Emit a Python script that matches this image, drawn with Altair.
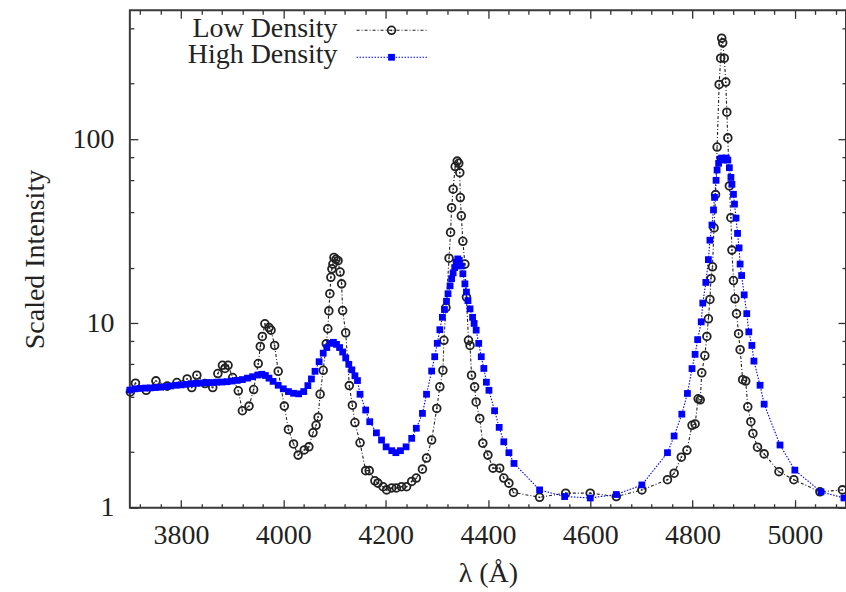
import altair as alt
import pandas as pd

# ---------------- data ----------------
LOW_LAMBDA = [3701, 3711, 3732, 3751, 3773, 3792, 3812, 3821, 3831, 3847, 3862, 3872, 3881, 3886,
              3892, 3901, 3912, 3920, 3933, 3942, 3951, 3955, 3959, 3964, 3972, 3976, 3983, 3990,
              4002, 4010, 4020, 4029, 4041, 4050, 4058, 4064, 4068, 4072, 4078, 4084, 4087, 4089,
              4091, 4093, 4095, 4097, 4099, 4103, 4107, 4111, 4114, 4116, 4122, 4129, 4135, 4140,
              4150, 4161, 4168, 4179, 4185, 4195, 4202, 4212, 4221, 4231, 4241, 4251, 4260, 4272,
              4280, 4290, 4300, 4306, 4312, 4314, 4318, 4324, 4327, 4329, 4332, 4336, 4340, 4343,
              4345, 4346, 4348, 4351, 4355, 4358, 4362, 4365, 4368, 4374, 4377, 4384, 4390, 4400,
              4410, 4423, 4431, 4441, 4450, 4501, 4552, 4600, 4651, 4701, 4751, 4764, 4778, 4789,
              4799, 4805, 4811, 4815, 4818, 4824, 4828, 4831, 4834, 4836, 4839, 4842, 4845, 4848,
              4852, 4855, 4857, 4859, 4862, 4865, 4867, 4869, 4872, 4875, 4877, 4880, 4883, 4886,
              4890, 4893, 4898, 4904, 4908, 4914, 4918, 4927, 4940, 4969, 4998, 5049, 5093]
LOW_VALUE = [4.25, 4.74, 4.34, 4.88, 4.57, 4.78, 5.0, 4.49, 5.24, 4.72, 4.49, 5.35, 5.93, 5.7,
             5.93, 5.09, 4.31, 3.36, 3.56, 4.38, 6.06, 7.5, 8.5, 9.96, 9.5, 9.2, 7.6, 5.5,
             3.56, 2.66, 2.22, 1.93, 2.06, 2.14, 2.55, 2.8, 3.1, 4.13, 5.57, 7.77, 9.36, 11.7,
             14.5, 17.8, 19.8, 21.0, 22.8, 22.3, 21.9, 19.0, 16.4, 11.75, 8.9, 4.6, 3.6, 2.9,
             2.25, 1.59, 1.59, 1.40, 1.36, 1.30, 1.25, 1.28, 1.28, 1.30, 1.30, 1.39, 1.45, 1.62,
             1.86, 2.33, 3.46, 4.53, 5.57, 8.1, 12.2, 22.6, 31.2, 42.5, 53.5, 71.0, 76.0, 74.0,
             65.8, 48.2, 38.4, 27.9, 21.0, 13.9, 8.1, 7.6, 5.24, 4.53, 3.75, 3.05, 2.24, 1.93,
             1.64, 1.64, 1.45, 1.36, 1.21, 1.14, 1.20, 1.20, 1.15, 1.25, 1.42, 1.54, 1.88, 2.05,
             2.8, 2.85, 3.9, 3.85, 5.4, 6.7, 8.5, 10.6, 13.5, 17.5, 20.3, 33.0, 50.0, 90.6,
             198.0, 275.0, 353.0, 333.0, 275.0, 204.0, 140.0, 101.6, 55.7, 37.5, 25.0, 17.1, 13.6, 11.3,
             8.8, 7.2, 4.95, 4.87, 3.53, 2.93, 2.53, 2.13, 1.96, 1.57, 1.42, 1.22, 1.25]

HIGH_LAMBDA = [3700, 3710, 3720, 3730, 3740, 3750, 3760, 3770, 3780, 3790, 3800, 3810, 3820, 3830,
               3840, 3850, 3860, 3870, 3880, 3890, 3900, 3910, 3920, 3930, 3940, 3950, 3958, 3965,
               3972, 3980, 3990, 4000, 4010, 4020, 4030, 4040, 4048, 4055, 4062, 4070, 4078, 4085,
               4092, 4098, 4104, 4110, 4116, 4122, 4128, 4134, 4140, 4145, 4150, 4161, 4169, 4182,
               4192, 4201, 4212, 4220, 4229, 4240, 4251, 4260, 4272, 4280, 4290, 4296, 4301, 4306,
               4311, 4315, 4319, 4322, 4326, 4329, 4332, 4335, 4338, 4341, 4344, 4348, 4351, 4355,
               4358, 4361, 4365, 4370, 4373, 4377, 4382, 4387, 4392, 4397, 4402, 4413, 4422, 4431,
               4441, 4451, 4501, 4550, 4600, 4651, 4701, 4751, 4764, 4779, 4790, 4799, 4805, 4810,
               4817, 4820, 4826, 4831, 4834, 4838, 4841, 4843, 4846, 4848, 4851, 4854, 4857, 4860,
               4863, 4866, 4869, 4872, 4875, 4877, 4880, 4882, 4885, 4888, 4891, 4893, 4896, 4901,
               4906, 4910, 4916, 4920, 4932, 4940, 4971, 5000, 5051, 5096]
HIGH_VALUE = [4.35, 4.42, 4.44, 4.46, 4.47, 4.49, 4.51, 4.54, 4.58, 4.62, 4.64, 4.67, 4.71, 4.73,
              4.75, 4.77, 4.78, 4.80, 4.81, 4.83, 4.87, 4.91, 4.96, 5.05, 5.14, 5.25, 5.30, 5.22,
              5.05, 4.85, 4.62, 4.42, 4.27, 4.18, 4.15, 4.27, 4.6, 5.0, 5.5, 6.2, 6.9, 7.4,
              7.8, 7.9, 7.7, 7.4, 7.0, 6.5, 6.0, 5.6, 5.2, 4.9, 4.13, 3.39, 2.93, 2.55,
              2.33, 2.14, 2.04, 1.99, 2.04, 2.14, 2.38, 2.70, 3.25, 4.13, 5.52, 6.6, 7.8, 9.25,
              10.8, 11.9, 13.2, 14.5, 16.0, 17.5, 18.8, 20.1, 21.5, 22.4, 22.0, 20.5, 18.6, 16.4,
              14.8, 13.3, 12.0, 10.8, 10.0, 9.2, 7.8, 6.6, 5.7, 4.8, 4.34, 3.36, 2.73, 2.28,
              1.99, 1.74, 1.25, 1.15, 1.13, 1.18, 1.33, 1.99, 2.45, 3.22, 4.17, 5.69, 6.8, 8.17,
              10.2, 12.9, 16.7, 22.2, 28.3, 34.2, 41.3, 48.3, 59.8, 68.0, 74.0, 78.0, 79.0, 77.0,
              78.0, 79.0, 77.0, 70.0, 62.0, 56.9, 50.2, 44.4, 37.3, 30.8, 25.7, 21.0, 18.2, 14.3,
              11.3, 9.0, 7.6, 6.25, 4.62, 3.65, 2.19, 1.60, 1.22, 1.13]

LEGEND_LABELS = ["Low Density", "High Density"]
X_TITLE = "λ (Å)"
Y_TITLE = "Scaled Intensity"
X_LABEL_VALUES = [3800, 4000, 4200, 4400, 4600, 4800, 5000]
X_TICK_VALUES = [3720, 3760, 3800, 3840, 3880, 3920, 3960, 4000, 4040, 4080, 4120, 4160, 4200,
                 4240, 4280, 4320, 4360, 4400, 4440, 4480, 4520, 4560, 4600, 4640, 4680, 4720,
                 4760, 4800, 4840, 4880, 4920, 4960, 5000, 5040, 5080]
Y_LABEL_VALUES = [1, 10, 100]
Y_TICK_VALUES = [1, 2, 4, 6, 8, 10, 20, 40, 60, 80, 100, 200, 400]
X_DOMAIN = [3700, 5100]
Y_DOMAIN = [1, 500]

# ---------------- styling ----------------
W, H = 717, 498
FONT = "Liberation Serif"
FS = 28
INK = "#222222"
BLUE = "#0000ff"

low = pd.DataFrame({"lam": LOW_LAMBDA, "val": LOW_VALUE})
high = pd.DataFrame({"lam": HIGH_LAMBDA, "val": HIGH_VALUE})

xs = alt.Scale(domain=X_DOMAIN, nice=False, zero=False)
ys = alt.Scale(type="log", domain=Y_DOMAIN, nice=False)

x_major = {"condition": {"test": "datum.value % 200 == 0", "value": 8}, "value": 4}
y_major = {"condition": {"test": "datum.value == 1 || datum.value == 10 || datum.value == 100",
                         "value": 8}, "value": 4}

def tick_axis(orient, offset, values, size):
    return alt.Axis(orient=orient, offset=offset, values=values, labels=False, domain=False,
                    grid=False, title=None, tickSize=size, tickColor="#333333", tickWidth=1.3)

ax_x_label = alt.Axis(orient="bottom", values=X_LABEL_VALUES, format="d", ticks=False, tickSize=0,
                      domain=False, grid=False, labelFont=FONT, labelFontSize=FS, labelColor=INK,
                      labelPadding=14, title=X_TITLE, titleFont=FONT, titleFontSize=FS,
                      titleFontWeight="normal", titleColor=INK, titlePadding=10)
ax_y_label = alt.Axis(orient="left", values=Y_LABEL_VALUES, format="d", ticks=False, tickSize=0,
                      domain=False, grid=False, labelFont=FONT, labelFontSize=FS, labelColor=INK,
                      labelPadding=16, title=Y_TITLE, titleFont=FONT, titleFontSize=FS,
                      titleFontWeight="normal", titleColor=INK, titlePadding=22)

low_line = alt.Chart(low).mark_line(color=INK, strokeWidth=1.1, strokeDash=[3, 2, 1, 2]).encode(
    x=alt.X("lam:Q", scale=xs, axis=ax_x_label),
    y=alt.Y("val:Q", scale=ys, axis=ax_y_label),
)
low_pts = alt.Chart(low).mark_point(shape="circle", filled=False, size=60, strokeWidth=1.8,
                                    color=INK, opacity=1).encode(
    x=alt.X("lam:Q", scale=xs, axis=tick_axis("top", -H, X_TICK_VALUES, x_major)),
    y=alt.Y("val:Q", scale=ys, axis=tick_axis("right", -W, Y_TICK_VALUES, y_major)),
)
low_dot = alt.Chart(low).mark_circle(size=3, color=INK, opacity=1).encode(
    x=alt.X("lam:Q", scale=xs, axis=tick_axis("bottom", -H, X_TICK_VALUES, x_major)),
    y=alt.Y("val:Q", scale=ys, axis=tick_axis("left", -W, Y_TICK_VALUES, y_major)),
)
high_line = alt.Chart(high).mark_line(color=BLUE, strokeWidth=1.1, strokeDash=[1.5, 1.5]).encode(
    x=alt.X("lam:Q", scale=xs, axis=None),
    y=alt.Y("val:Q", scale=ys, axis=None),
)
high_pts = alt.Chart(high).mark_point(shape="square", filled=True, size=46, color=BLUE,
                                      opacity=1).encode(
    x=alt.X("lam:Q", scale=xs, axis=None),
    y=alt.Y("val:Q", scale=ys, axis=None),
)

# ---------------- key (gnuplot style, top-left inside the frame) ----------------
leg = pd.DataFrame({"t": LEGEND_LABELS})
leg_low = leg.iloc[[0]]
leg_high = leg.iloc[[1]]

def key_text(df, yb):
    return alt.Chart(df).mark_text(align="right", baseline="alphabetic", font=FONT, fontSize=FS,
                                   color=INK).encode(x=alt.value(208), y=alt.value(yb), text="t:N")

k1 = key_text(leg_low, 27)
k2 = key_text(leg_high, 53)
k1_line = alt.Chart(leg_low).mark_rule(color=INK, strokeWidth=1.1, strokeDash=[3, 2, 1, 2]).encode(
    x=alt.value(227), x2=alt.value(298), y=alt.value(20))
k1_pt = alt.Chart(leg_low).mark_point(shape="circle", filled=False, size=60, strokeWidth=1.8,
                                       color=INK, opacity=1).encode(x=alt.value(262), y=alt.value(20))
k1_dot = alt.Chart(leg_low).mark_circle(size=3, color=INK, opacity=1).encode(
    x=alt.value(262), y=alt.value(20))
k2_line = alt.Chart(leg_high).mark_rule(color=BLUE, strokeWidth=1.1, strokeDash=[1.5, 1.5]).encode(
    x=alt.value(227), x2=alt.value(298), y=alt.value(47))
k2_pt = alt.Chart(leg_high).mark_point(shape="square", filled=True, size=46, color=BLUE,
                                       opacity=1).encode(x=alt.value(262), y=alt.value(47))

chart = alt.layer(
    low_line, low_pts, low_dot, high_line, high_pts,
    k1, k2, k1_line, k1_pt, k1_dot, k2_line, k2_pt,
).resolve_axis(x="independent", y="independent").properties(
    width=W, height=H,
    autosize=alt.AutoSizeParams(type="none"),
    padding={"left": 130, "top": 10, "right": 0, "bottom": 84},
    background="white",
).configure_view(stroke="#3a3a3a", strokeWidth=2)

chart.save("out.html", embed_options={"renderer": "svg", "actions": False})
